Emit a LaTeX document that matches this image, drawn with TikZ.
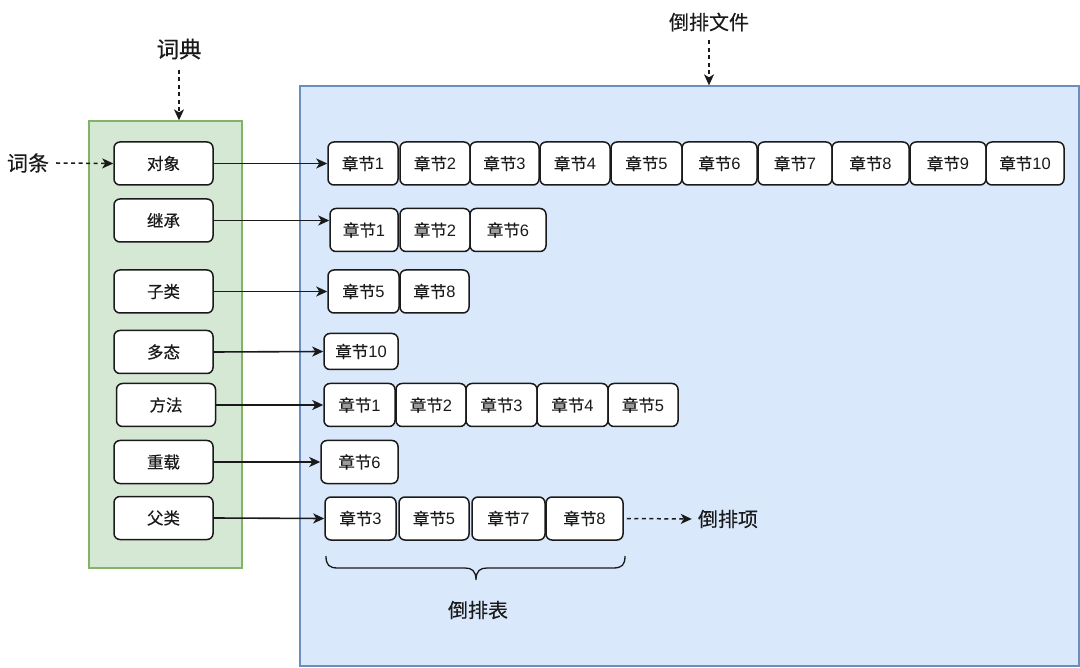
\documentclass[tikz,border=0pt]{standalone}
\usepackage{fontspec}
\setmainfont{Noto Sans CJK SC}[FakeBold=0.3,UprightFont=*,BoldFont=*]
\newfontfamily\latinf{Liberation Sans}
\usetikzlibrary{arrows.meta,calc}
\definecolor{greenfill}{HTML}{D5E8D4}
\definecolor{greenline}{HTML}{82B366}
\definecolor{bluefill}{HTML}{DAE8FC}
\definecolor{blueline}{HTML}{6C8EBF}
\definecolor{ink}{HTML}{1A1A1A}
\tikzset{
  every node/.style={text=ink},
  termbox/.style={draw=ink, fill=white, rounded corners=6pt, line width=1.5pt,
    inner sep=0pt, minimum width=99pt, minimum height=43pt, font=\fontsize{16.5}{18}\selectfont},
  chapbox/.style={draw=ink, fill=white, rounded corners=6pt, line width=1.5pt,
    inner sep=0pt, minimum height=43pt, font=\fontsize{16.5}{18}\selectfont},
  biglabel/.style={inner sep=0pt, font=\fontsize{20}{22}\selectfont},
  link/.style={draw=ink, line width=1.6pt, -{Stealth[length=11pt,width=10pt,inset=3pt]}},
  dlink/.style={draw=ink, line width=1.5pt, dash pattern=on 4pt off 3.5pt,
    -{Stealth[length=11pt,width=10pt,inset=3pt]}},
}
\newcommand{\chap}[5]{\node[chapbox, minimum width={#3-#2}] (#1) at ({(#2+#3)/2},#4) {章节{\latinf #5}};}
\begin{document}
\begin{tikzpicture}[x=1pt,y=-1pt]
\useasboundingbox (0,0) rectangle (1080,668);
% containers
\node[draw=greenline, fill=greenfill, line width=1.3pt, minimum width=153pt, minimum height=447pt, inner sep=0pt] (dict) at (165.5,344.5) {};
\node[draw=blueline, fill=bluefill, line width=1.3pt, minimum width=779pt, minimum height=580pt, inner sep=0pt] (inv) at (689.5,376) {};
% labels
\node[biglabel, font=\fontsize{22.5}{24}\selectfont] (cidian) at (179,49) {词典};
\node[biglabel] (daopaiwj) at (709,22) {倒排文件};
\node[biglabel, font=\fontsize{21}{23}\selectfont] (citiao) at (28,163) {词条};
\node[biglabel] (daopaix) at (728,519) {倒排项};
\node[biglabel] (daopaib) at (478,610) {倒排表};
% dictionary terms
\node[termbox] (t1) at (163.5,163.5) {对象};
\node[termbox] (t2) at (163.5,220.5) {继承};
\node[termbox] (t3) at (163.5,291.5) {子类};
\node[termbox] (t4) at (163.5,352) {多态};
\node[termbox] (t5) at (166,405) {方法};
\node[termbox] (t6) at (163.5,462) {重载};
\node[termbox] (t7) at (163.5,518) {父类};
% row 1
\chap{a1}{328}{398}{163.5}{1}
\chap{a2}{400}{470}{163.5}{2}
\chap{a3}{470}{539}{163.5}{3}
\chap{a4}{540}{610}{163.5}{4}
\chap{a5}{611}{682}{163.5}{5}
\chap{a6}{682}{757}{163.5}{6}
\chap{a7}{758}{832}{163.5}{7}
\chap{a8}{832}{909}{163.5}{8}
\chap{a9}{910}{986}{163.5}{9}
\chap{a10}{986}{1064}{163.5}{10}
% row 2
\chap{b1}{330}{398}{230}{1}
\chap{b2}{400}{470}{230}{2}
\chap{b3}{470}{546}{230}{6}
% row 3
\chap{c1}{328}{399}{291.5}{5}
\chap{c2}{400}{469}{291.5}{8}
% row 4
\node[chapbox, minimum width=74pt, minimum height=36pt] (d1) at (361,351.5) {章节{\latinf 10}};
% row 5
\chap{e1}{324}{395}{405}{1}
\chap{e2}{396}{466}{405}{2}
\chap{e3}{466}{537}{405}{3}
\chap{e4}{537}{608}{405}{4}
\chap{e5}{608}{678}{405}{5}
% row 6
\chap{f1}{321}{398}{462}{6}
% row 7
\chap{g1}{325}{396}{518.5}{3}
\chap{g2}{399}{469}{518.5}{5}
\chap{g3}{472}{545}{518.5}{7}
\chap{g4}{546}{623}{518.5}{8}
% connectors
\draw[link] (t1.east) -- (a1.west);
\draw[link] (t2.east) -- (t2.east -| b1.west);
\draw[link] (t3.east) -- (c1.west);
\draw[link] (t4.east) -- (d1.west);
\draw[link] (t5.east) -- (e1.west);
\draw[link] (t6.east) -- (f1.west);
\draw[link] (t7.east) -- (g1.west);
% dashed pointers
\draw[dlink] ($(cidian.south)+(0,10)$) -- (cidian.south |- dict.north);
\draw[dlink] ($(daopaiwj.south)+(0,9)$) -- (daopaiwj.south |- inv.north);
\draw[dlink] ($(citiao.east)+(7,0)$) -- (t1.west);
\draw[dlink] ($(g4.east)+(3,0)$) -- ($(daopaix.west)+(-6,0)$);
% brace
\coordinate (bl) at (326,556);
\coordinate (br) at (625,556);
\coordinate (bt) at (476,580);
\draw[draw=ink, line width=1.3pt] (bl) .. controls (326,565) and (329,568) .. (338,568) -- (465,568)
  .. controls (472,568) and (476,571) .. (bt)
  .. controls (476,571) and (480,568) .. (487,568) -- (613,568)
  .. controls (622,568) and (625,565) .. (br);
\end{tikzpicture}
\end{document}
